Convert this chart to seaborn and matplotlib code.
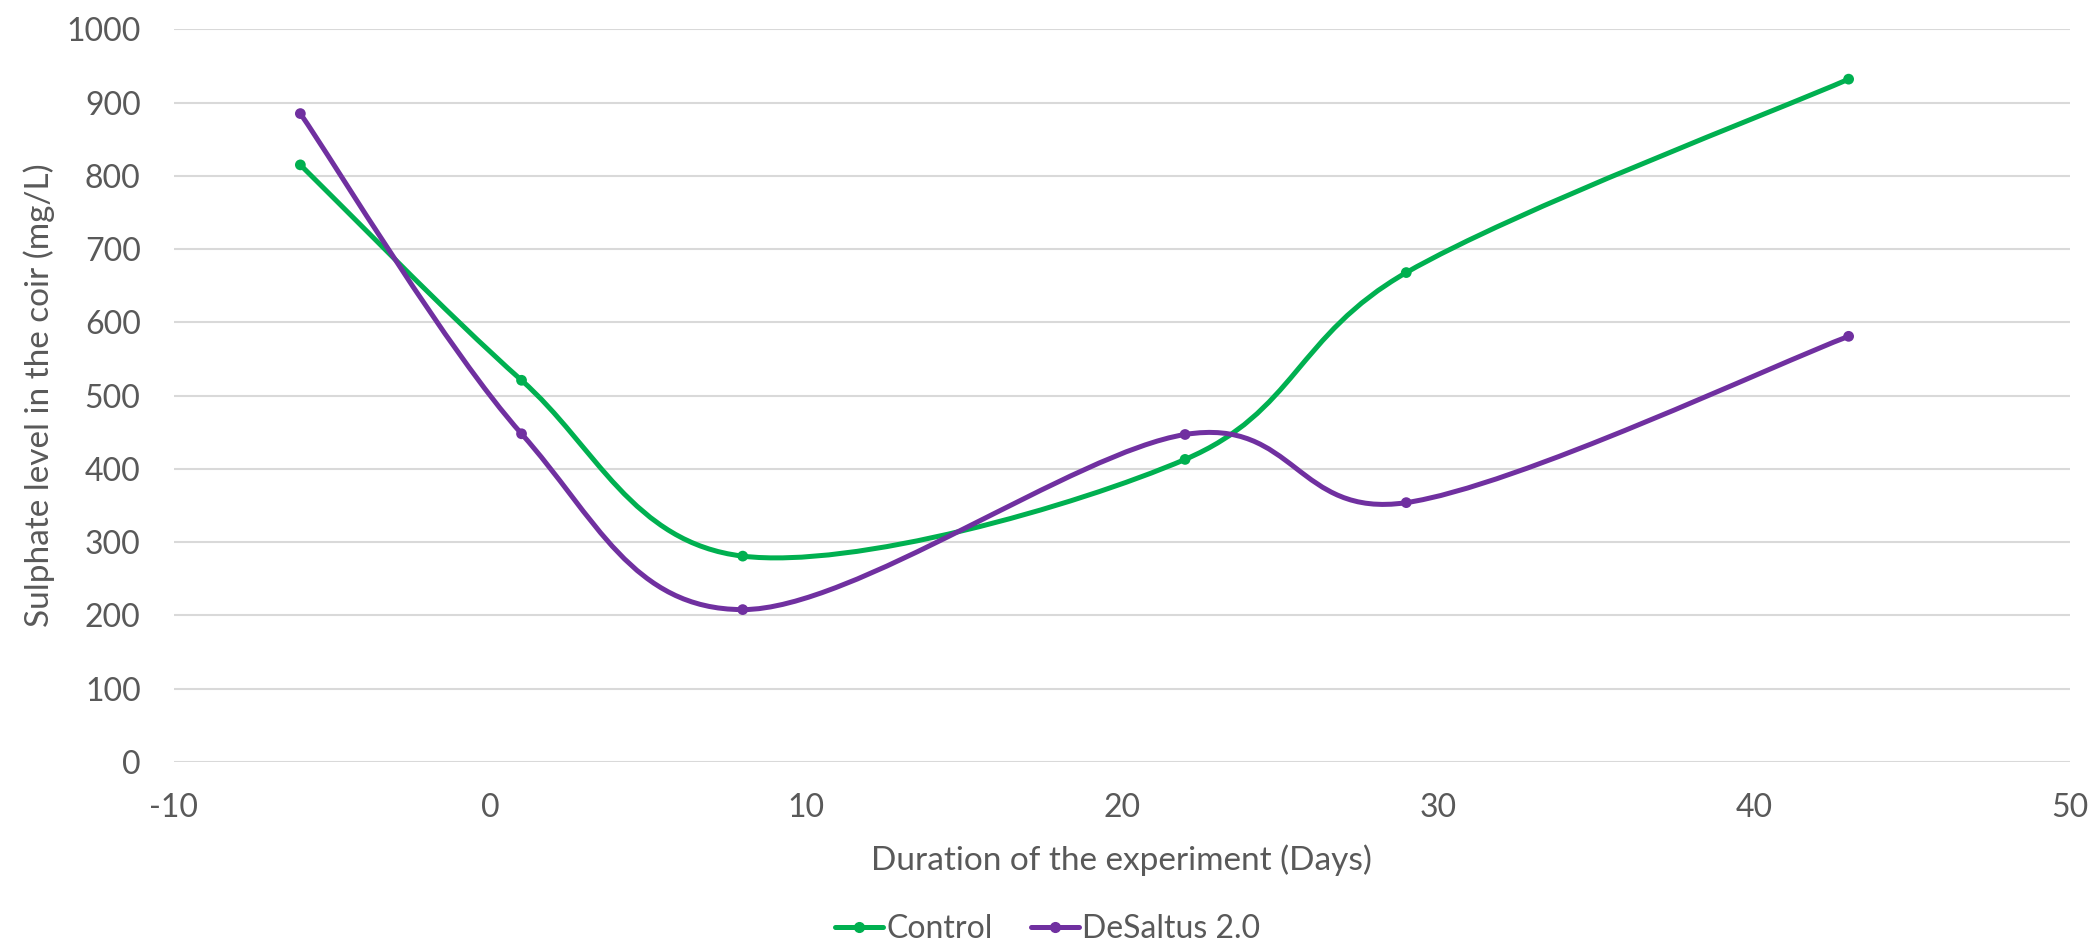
import numpy as np
import matplotlib
matplotlib.use("Agg")
import matplotlib.pyplot as plt
from matplotlib.path import Path
from matplotlib.patches import PathPatch
from matplotlib.lines import Line2D
import seaborn as sns

# data
days = [-6, 1, 8, 22, 29, 43]
control = [815, 521, 281, 413, 668, 932]
desaltus = [885, 448, 208, 447, 354, 581]
series_names = ["Control", "DeSaltus 2.0"]
series_colors = ["#00B050", "#7030A0"]

sns.set_theme(style="white")
plt.rcParams["font.family"] = ["Lato", "DejaVu Sans"]
plt.rcParams["axes.unicode_minus"] = False
text_color = "#595959"


def smooth_path(x, y):
    # Excel-style smoothed line: Catmull-Rom segments as cubic Beziers
    pts = np.column_stack([x, y]).astype(float)
    n = len(pts)
    verts = [pts[0]]
    codes = [Path.MOVETO]
    for i in range(n - 1):
        p0 = pts[max(i - 1, 0)]
        p1 = pts[i]
        p2 = pts[i + 1]
        p3 = pts[min(i + 2, n - 1)]
        c1 = p1 + (p2 - p0) / 6.0
        c2 = p2 - (p3 - p1) / 6.0
        verts += [c1, c2, p2]
        codes += [Path.CURVE4] * 3
    return Path(verts, codes)


fig = plt.figure(figsize=(20.96, 9.46), dpi=100)
ax = fig.add_axes([0.083, 0.1945, 0.9045, 0.7745])

for vals, name, col in zip([control, desaltus], series_names, series_colors):
    ax.add_patch(PathPatch(smooth_path(days, vals), facecolor="none",
                           edgecolor=col, lw=3.6, capstyle="round", zorder=3))
    sns.scatterplot(x=days, y=vals, color=col, s=60, edgecolor="none",
                    ax=ax, zorder=4, legend=False)

ax.set_xlim(-10, 50)
ax.set_ylim(0, 1000)
ax.set_xticks(range(-10, 51, 10))
ax.set_yticks(range(0, 1001, 100))
ax.grid(axis="y", color="#D9D9D9", lw=1.5)
ax.grid(axis="x", visible=False)
sns.despine(ax=ax, left=True, bottom=True)
ax.tick_params(axis="both", length=0, labelsize=23, labelcolor=text_color)
ax.tick_params(axis="y", pad=24)
ax.tick_params(axis="x", pad=22)

ax.set_xlabel("Duration of the experiment (Days)", fontsize=24,
              color=text_color, labelpad=16)
ax.set_ylabel("Sulphate level in the coir (mg/L)", fontsize=24,
              color=text_color, labelpad=8)

handles = [Line2D([0], [0], color=c, lw=3.6, marker="o", markersize=7)
           for c in series_colors]
fig.legend(handles, series_names, loc="center", bbox_to_anchor=(0.5, 0.018),
           ncol=2, frameon=False, fontsize=23, labelcolor=text_color,
           handlelength=1.5, handletextpad=0.1, columnspacing=1.2)

fig.savefig("out.png", dpi=100)
